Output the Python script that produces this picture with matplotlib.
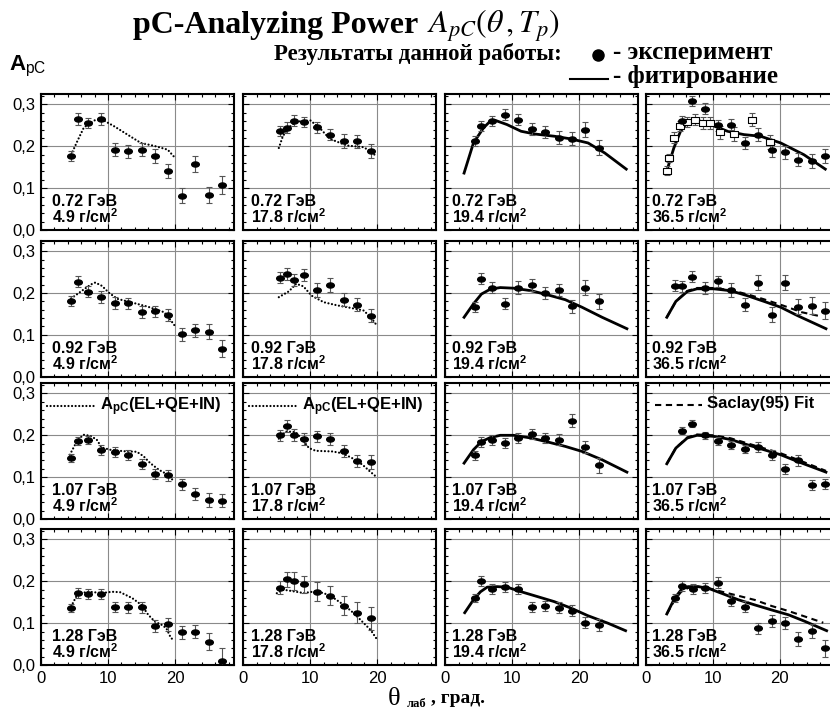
import matplotlib
matplotlib.use("Agg")
import matplotlib.pyplot as plt
from matplotlib.path import Path
from matplotlib.transforms import Affine2D
from matplotlib.lines import Line2D
from matplotlib.ticker import FixedLocator, MultipleLocator, FuncFormatter

plt.rcParams['font.family'] = ['Liberation Sans', 'DejaVu Sans']
plt.rcParams['mathtext.fontset'] = 'custom'
plt.rcParams['mathtext.rm'] = 'Liberation Sans'
plt.rcParams['mathtext.bf'] = 'Liberation Sans:bold'
plt.rcParams['mathtext.it'] = 'Liberation Sans:italic'

# ---------------- data ----------------
energies = ["0.72", "0.92", "1.07", "1.28"]
thicknesses = ["4.9", "17.8", "19.4", "36.5"]

th13 = [4.5, 5.5, 7, 9, 11, 13, 15, 17, 19, 21, 23, 25, 27]
th9 = [5.5, 6.5, 7.5, 9, 11, 13, 15, 17, 19]
th11 = [4.4, 5.4, 6.9, 8.9, 10.9, 12.9, 14.9, 16.9, 18.9, 20.9, 22.9]

# 0.72 GeV
a_072_49 = [0.176, 0.266, 0.256, 0.266, 0.192, 0.188, 0.192, 0.177, 0.141, 0.082, 0.157, 0.084, 0.108]
e_072_49 = [0.012, 0.014, 0.012, 0.014, 0.016, 0.016, 0.016, 0.017, 0.017, 0.018, 0.019, 0.019, 0.022]
dth_072_49 = [4.5, 5.5, 6.4, 8.0, 9.0, 10.9, 12.9, 14.9, 16.9, 18.9, 19.8]
da_072_49 = [0.180, 0.215, 0.245, 0.262, 0.265, 0.248, 0.228, 0.208, 0.201, 0.192, 0.176]

a_072_178 = [0.236, 0.244, 0.261, 0.258, 0.245, 0.228, 0.213, 0.212, 0.189]
e_072_178 = [0.012, 0.013, 0.013, 0.013, 0.013, 0.014, 0.016, 0.016, 0.017]
dth_072_178 = [5.3, 5.9, 6.8, 7.5, 8.5, 10.0, 11.5, 12.9, 15.4, 17.9, 19.4, 19.7]
da_072_178 = [0.196, 0.224, 0.245, 0.254, 0.260, 0.262, 0.242, 0.218, 0.202, 0.198, 0.185, 0.176]

a_072_194 = [0.212, 0.249, 0.261, 0.276, 0.264, 0.242, 0.235, 0.221, 0.218, 0.240, 0.197]
e_072_194 = [0.012, 0.012, 0.012, 0.013, 0.014, 0.014, 0.014, 0.016, 0.016, 0.017, 0.018]
fth_072_194 = [2.8, 4.2, 5.7, 6.7, 7.45, 9.2, 11.3, 13.3, 16.3, 18.8, 21.3, 23.8, 27.0]
fa_072_194 = [0.136, 0.208, 0.244, 0.260, 0.262, 0.252, 0.236, 0.2295, 0.224, 0.2175, 0.208, 0.184, 0.1455]

th_072_365 = [5.4, 6.9, 8.8, 10.8, 12.8, 14.8, 16.8, 18.8, 20.8, 22.8, 24.8, 26.8]
a_072_365 = [0.260, 0.308, 0.290, 0.250, 0.252, 0.208, 0.228, 0.190, 0.1855, 0.168, 0.164, 0.1775]
e_072_365 = [0.012, 0.012, 0.013, 0.013, 0.013, 0.015, 0.016, 0.016, 0.016, 0.016, 0.017, 0.017]
sq_th_072_365 = [3.2, 3.55, 4.15, 5.15, 6.15, 7.4, 8.55, 9.65, 11.15, 13.15, 15.8, 18.55]
sq_a_072_365 = [0.142, 0.172, 0.221, 0.249, 0.257, 0.264, 0.256, 0.256, 0.233, 0.2295, 0.264, 0.210]
sq_e_072_365 = [0.010, 0.010, 0.012, 0.012, 0.012, 0.013, 0.014, 0.014, 0.015, 0.016, 0.016, 0.016]
fth_072_365 = [3.2, 4.2, 5.2, 6.2, 7.4, 9.65, 12.2, 14.65, 17.15, 20.15, 23.6, 26.8]
fa_072_365 = [0.144, 0.196, 0.236, 0.256, 0.264, 0.252, 0.236, 0.228, 0.224, 0.208, 0.180, 0.1455]

# 0.92 GeV
a_092_49 = [0.182, 0.227, 0.203, 0.190, 0.176, 0.175, 0.154, 0.156, 0.148, 0.101, 0.111, 0.107, 0.067]
e_092_49 = [0.012, 0.013, 0.013, 0.015, 0.014, 0.014, 0.014, 0.014, 0.014, 0.016, 0.016, 0.018, 0.020]
dth_092_49 = [4.5, 5.9, 7.4, 8.1, 9.1, 10.1, 11.4, 13.4, 15.9, 18.4, 19.4, 20.0]
da_092_49 = [0.187, 0.203, 0.220, 0.225, 0.217, 0.201, 0.186, 0.178, 0.1675, 0.154, 0.134, 0.121]

a_092_178 = [0.237, 0.245, 0.231, 0.243, 0.207, 0.219, 0.184, 0.172, 0.146]
e_092_178 = [0.014, 0.015, 0.015, 0.015, 0.016, 0.016, 0.016, 0.016, 0.016]
dth_092_178 = [5.3, 6.8, 7.9, 8.96, 10.2, 12.0, 14.0, 16.0, 18.0, 19.2, 20.0]
da_092_178 = [0.190, 0.204, 0.222, 0.216, 0.1935, 0.178, 0.1705, 0.1645, 0.158, 0.138, 0.121]

a_092_194 = [0.166, 0.2346, 0.213, 0.174, 0.213, 0.219, 0.200, 0.207, 0.168, 0.213, 0.180]
e_092_194 = [0.012, 0.013, 0.013, 0.013, 0.015, 0.014, 0.015, 0.014, 0.016, 0.017, 0.018]
fth_092_194 = [2.8, 4.2, 5.4, 6.7, 8.2, 10.2, 12.8, 15.3, 17.9, 20.4, 23.4, 27.1]
fa_092_194 = [0.142, 0.174, 0.1976, 0.209, 0.213, 0.2115, 0.2055, 0.1955, 0.184, 0.166, 0.142, 0.1147]

th_092_365 = [4.4, 5.4, 6.9, 8.8, 10.8, 12.8, 14.8, 16.8, 18.8, 20.8, 22.8, 24.8, 26.8]
a_092_365 = [0.2173, 0.216, 0.2393, 0.2118, 0.2275, 0.207, 0.172, 0.225, 0.1486, 0.225, 0.1675, 0.170, 0.158]
e_092_365 = [0.013, 0.013, 0.013, 0.014, 0.014, 0.016, 0.016, 0.017, 0.018, 0.018, 0.018, 0.020, 0.020]
fth_092_365 = [3.15, 4.5, 6.2, 7.65, 10.15, 12.65, 15.15, 17.65, 20.15, 22.65, 26.9]
fa_092_365 = [0.142, 0.180, 0.2035, 0.210, 0.210, 0.2055, 0.1936, 0.180, 0.166, 0.146, 0.1147]
sth_092_365 = [3.15, 4.5, 6.2, 7.65, 10.15, 12.65, 15.15, 17.65, 20.5, 23.3, 26.2]
sa_092_365 = [0.142, 0.180, 0.205, 0.212, 0.212, 0.207, 0.197, 0.185, 0.170, 0.154, 0.144]

# 1.07 GeV
a_107_49 = [0.1455, 0.187, 0.1894, 0.1655, 0.160, 0.1535, 0.131, 0.108, 0.104, 0.083, 0.060, 0.0456, 0.044]
e_107_49 = [0.010, 0.010, 0.010, 0.012, 0.012, 0.012, 0.012, 0.012, 0.012, 0.013, 0.015, 0.016, 0.016]
dth_107_49 = [4.3, 5.3, 6.3, 7.3, 8.3, 9.05, 10.3, 12.3, 14.3, 15.3, 16.3, 17.6, 18.8, 19.8]
da_107_49 = [0.1535, 0.184, 0.2014, 0.199, 0.190, 0.171, 0.1655, 0.162, 0.1606, 0.150, 0.1335, 0.1175, 0.107, 0.091]

a_107_178 = [0.200, 0.2214, 0.2014, 0.191, 0.1974, 0.191, 0.163, 0.139, 0.136]
e_107_178 = [0.013, 0.014, 0.014, 0.014, 0.014, 0.014, 0.014, 0.015, 0.016]
dth_107_178 = [5.3, 6.3, 7.8, 8.8, 9.8, 10.8, 13.3, 14.8, 16.3, 17.8, 18.8, 19.8]
da_107_178 = [0.192, 0.209, 0.208, 0.190, 0.1695, 0.163, 0.1614, 0.157, 0.145, 0.1295, 0.115, 0.1014]

a_107_194 = [0.152, 0.184, 0.189, 0.1815, 0.1935, 0.203, 0.1935, 0.189, 0.235, 0.172, 0.128]
e_107_194 = [0.010, 0.011, 0.011, 0.013, 0.013, 0.013, 0.013, 0.013, 0.015, 0.015, 0.017]
fth_107_194 = [2.8, 4.2, 5.4, 6.7, 8.2, 10.2, 12.8, 15.3, 17.9, 20.4, 23.4, 27.1]
fa_107_194 = [0.1335, 0.1655, 0.185, 0.1945, 0.200, 0.200, 0.1935, 0.184, 0.1735, 0.1615, 0.1415, 0.112]

th_107_365 = [5.4, 6.9, 8.8, 10.8, 12.8, 14.8, 16.8, 18.8, 20.8, 22.8, 24.8, 26.8]
a_107_365 = [0.211, 0.228, 0.200, 0.187, 0.1775, 0.168, 0.172, 0.1535, 0.120, 0.140, 0.0815, 0.083]
e_107_365 = [0.008, 0.008, 0.009, 0.010, 0.010, 0.010, 0.012, 0.012, 0.012, 0.014, 0.012, 0.012]
fth_107_365 = [3.15, 4.5, 6.2, 7.65, 10.15, 12.65, 15.15, 17.65, 20.15, 22.65, 26.9]
fa_107_365 = [0.132, 0.1695, 0.1935, 0.200, 0.1975, 0.190, 0.1775, 0.1655, 0.1535, 0.1375, 0.112]
sth_107_365 = [3.15, 4.5, 6.2, 7.65, 10.15, 12.65, 15.15, 17.65, 20.15, 22.65, 26.9]
sa_107_365 = [0.132, 0.170, 0.195, 0.202, 0.200, 0.193, 0.181, 0.169, 0.157, 0.142, 0.115]

# 1.28 GeV
a_128_49 = [0.1356, 0.173, 0.170, 0.169, 0.138, 0.138, 0.138, 0.0933, 0.0973, 0.078, 0.080, 0.056, 0.0096]
e_128_49 = [0.010, 0.012, 0.012, 0.012, 0.012, 0.013, 0.013, 0.015, 0.015, 0.016, 0.015, 0.020, 0.030]
dth_128_49 = [4.5, 5.5, 7.2, 9.1, 10.6, 11.8, 13.6, 15.0, 16.0, 17.0, 18.0, 18.7, 19.4, 19.9]
da_128_49 = [0.140, 0.171, 0.175, 0.172, 0.175, 0.174, 0.160, 0.1435, 0.120, 0.1037, 0.096, 0.088, 0.064, 0.060]

a_128_178 = [0.185, 0.205, 0.201, 0.193, 0.1754, 0.166, 0.142, 0.125, 0.1117]
e_128_178 = [0.015, 0.018, 0.022, 0.020, 0.022, 0.022, 0.022, 0.025, 0.027]
dth_128_178 = [5.0, 6.0, 7.5, 9.0, 10.5, 12.0, 13.5, 15.0, 16.5, 18.0, 19.0, 20.0]
da_128_178 = [0.1715, 0.180, 0.176, 0.172, 0.1754, 0.172, 0.160, 0.1435, 0.1236, 0.0997, 0.0837, 0.060]

a_128_194 = [0.160, 0.2017, 0.181, 0.186, 0.181, 0.1395, 0.142, 0.137, 0.130, 0.101, 0.0957]
e_128_194 = [0.010, 0.012, 0.012, 0.012, 0.012, 0.012, 0.012, 0.013, 0.013, 0.013, 0.014]
fth_128_194 = [2.9, 4.25, 5.25, 6.25, 7.75, 9.25, 11.25, 13.75, 16.25, 18.75, 21.25, 24.25, 26.9]
fa_128_194 = [0.125, 0.157, 0.175, 0.186, 0.1873, 0.186, 0.1754, 0.1635, 0.1515, 0.136, 0.118, 0.100, 0.082]

th_128_365 = [4.4, 5.4, 7.0, 8.8, 10.8, 12.8, 14.8, 16.8, 18.8, 20.8, 22.8, 24.8, 26.8]
a_128_365 = [0.160, 0.189, 0.181, 0.1835, 0.197, 0.154, 0.1395, 0.088, 0.105, 0.101, 0.062, 0.081, 0.040]
e_128_365 = [0.010, 0.012, 0.012, 0.012, 0.014, 0.013, 0.013, 0.013, 0.014, 0.014, 0.017, 0.016, 0.020]
fth_128_365 = [3.15, 4.3, 5.3, 6.3, 7.8, 9.3, 11.3, 13.8, 16.3, 18.8, 21.3, 23.8, 27.0]
fa_128_365 = [0.122, 0.159, 0.180, 0.1873, 0.1873, 0.1835, 0.1715, 0.156, 0.1435, 0.1315, 0.120, 0.104, 0.082]
sth_128_365 = [3.15, 4.3, 5.3, 6.3, 7.8, 9.3, 11.3, 13.8, 16.3, 18.8, 21.3, 23.8, 26.5]
sa_128_365 = [0.122, 0.155, 0.175, 0.184, 0.1873, 0.184, 0.1754, 0.1655, 0.1554, 0.141, 0.129, 0.1156, 0.101]

# ---------------- panel table ----------------
panels = {
    (0, 0): dict(th=th13, a=a_072_49, e=e_072_49, dth=dth_072_49, da=da_072_49),
    (0, 1): dict(th=th9, a=a_072_178, e=e_072_178, dth=dth_072_178, da=da_072_178),
    (0, 2): dict(th=th11, a=a_072_194, e=e_072_194, fth=fth_072_194, fa=fa_072_194),
    (0, 3): dict(th=th_072_365, a=a_072_365, e=e_072_365, fth=fth_072_365, fa=fa_072_365,
                 sqth=sq_th_072_365, sqa=sq_a_072_365, sqe=sq_e_072_365),
    (1, 0): dict(th=th13, a=a_092_49, e=e_092_49, dth=dth_092_49, da=da_092_49),
    (1, 1): dict(th=th9, a=a_092_178, e=e_092_178, dth=dth_092_178, da=da_092_178),
    (1, 2): dict(th=th11, a=a_092_194, e=e_092_194, fth=fth_092_194, fa=fa_092_194),
    (1, 3): dict(th=th_092_365, a=a_092_365, e=e_092_365, fth=fth_092_365, fa=fa_092_365,
                 sth=sth_092_365, sa=sa_092_365),
    (2, 0): dict(th=th13, a=a_107_49, e=e_107_49, dth=dth_107_49, da=da_107_49),
    (2, 1): dict(th=th9, a=a_107_178, e=e_107_178, dth=dth_107_178, da=da_107_178),
    (2, 2): dict(th=th11, a=a_107_194, e=e_107_194, fth=fth_107_194, fa=fa_107_194),
    (2, 3): dict(th=th_107_365, a=a_107_365, e=e_107_365, fth=fth_107_365, fa=fa_107_365,
                 sth=sth_107_365, sa=sa_107_365),
    (3, 0): dict(th=th13, a=a_128_49, e=e_128_49, dth=dth_128_49, da=da_128_49),
    (3, 1): dict(th=th9, a=a_128_178, e=e_128_178, dth=dth_128_178, da=da_128_178),
    (3, 2): dict(th=th11, a=a_128_194, e=e_128_194, fth=fth_128_194, fa=fa_128_194),
    (3, 3): dict(th=th_128_365, a=a_128_365, e=e_128_365, fth=fth_128_365, fa=fa_128_365,
                 sth=sth_128_365, sa=sa_128_365),
}

# ---------------- figure ----------------
W, H = 830, 716
fig = plt.figure(figsize=(W / 100, H / 100), dpi=100)
fig.patch.set_facecolor('white')

col_left = [41, 243.3, 445.3, 645.7]
row_zero = [230, 376.7, 519, 665]
PW, PH = 193, 136
XMAX, YMAX = 28.8, 0.325

ell = Affine2D().scale(1.5, 1.0).transform_path(Path.unit_circle())
rect = Path([(-0.7, -0.5), (0.7, -0.5), (0.7, 0.5), (-0.7, 0.5), (-0.7, -0.5)], closed=True)

DOT = (0, (0.01, 1.6))
lab_x = [1.6, 1.2, 1.0, 1.0]
ylab_fmt = FuncFormatter(lambda v, p: f"{v:.1f}".replace('.', ','))

for (r, c), p in panels.items():
    ax = fig.add_axes([col_left[c] / W, 1 - row_zero[r] / H, PW / W, PH / H])
    ax.set_xlim(0, XMAX)
    ax.set_ylim(0, YMAX)
    ax.xaxis.set_major_locator(FixedLocator([0, 10, 20]))
    ax.xaxis.set_minor_locator(MultipleLocator(2))
    ax.yaxis.set_major_locator(FixedLocator([0, 0.1, 0.2, 0.3]))
    ax.yaxis.set_minor_locator(MultipleLocator(0.02))
    ax.grid(True, which='major', color='#8a8a8a', lw=0.8)
    ax.set_axisbelow(True)
    ax.tick_params(which='both', direction='in', top=True, right=True,
                   width=0.8, color='k')
    ax.tick_params(which='major', length=4)
    ax.tick_params(which='minor', length=2.5)
    ax.tick_params(axis='both', labelsize=12, pad=4)
    for s in ax.spines.values():
        s.set_linewidth(1.5)
    if c == 0:
        ax.yaxis.set_major_formatter(ylab_fmt)
    else:
        ax.tick_params(axis='y', labelleft=False)
    if r != 3:
        ax.tick_params(axis='x', labelbottom=False)

    if 'dth' in p:
        ax.plot(p['dth'], p['da'], color='k', lw=1.6, ls=DOT,
                dash_capstyle='round', zorder=3)
    if 'sth' in p:
        ax.plot(p['sth'], p['sa'], color='k', lw=1.5, ls=(0, (3, 2.2)), zorder=3)
    if 'fth' in p:
        ax.plot(p['fth'], p['fa'], color='k', lw=2.0, zorder=3)
    if 'sqth' in p:
        ax.errorbar(p['sqth'], p['sqa'], yerr=p['sqe'], fmt='none', ecolor='#555555',
                    elinewidth=0.8, capsize=2, capthick=0.8, zorder=4)
        ax.plot(p['sqth'], p['sqa'], ls='none', marker=rect, ms=6, mfc='white',
                mec='k', mew=0.8, zorder=5)
    ax.errorbar(p['th'], p['a'], yerr=p['e'], fmt='none', ecolor='#555555',
                elinewidth=0.8, capsize=2, capthick=0.8, zorder=4)
    ax.plot(p['th'], p['a'], ls='none', marker=ell, ms=5.5, color='k', zorder=6)

    ax.text(lab_x[c], 0.057, f"{energies[r]} ГэВ", fontsize=11.5,
            fontweight='bold', va='baseline', zorder=7)
    ax.text(lab_x[c] + (0.1 if c == 0 else 0), 0.016,
            thicknesses[c] + r" г/см$^{\mathbf{2}}$", fontsize=11.5,
            fontweight='bold', va='baseline', zorder=7)

    if r == 2 and c in (0, 1):
        ax.plot([0.03, 0.29], [0.83, 0.83], transform=ax.transAxes, color='k',
                lw=1.6, ls=DOT, dash_capstyle='round')
        ax.text(0.305, 0.80, r"A$_{\mathbf{pC}}$(EL+QE+IN)", transform=ax.transAxes,
                fontsize=12, fontweight='bold', va='baseline')
    if r == 2 and c == 3:
        ax.plot([0.05, 0.29], [0.84, 0.84], transform=ax.transAxes, color='k',
                lw=1.5, ls=(0, (3, 2.2)))
        ax.text(0.32, 0.815, "Saclay(95) Fit", transform=ax.transAxes,
                fontsize=12, fontweight='bold', va='baseline')


def fx(x):
    return x / W


def fy(y):
    return 1 - y / H


serif = ['Liberation Serif', 'DejaVu Serif']

fig.text(fx(133), fy(33), "pC-Analyzing Power", family=serif, weight='bold',
         size=23, va='baseline')
fig.text(fx(427), fy(33), r"$A_{pC}(\theta\,,T_p)$", math_fontfamily='stix',
         size=23, va='baseline')

fig.text(fx(562), fy(60), "Результаты данной работы:", family=serif,
         weight='bold', size=16.5, va='baseline', ha='right')
fig.add_artist(Line2D([fx(598)], [fy(55)], marker='o', ms=8, color='k',
                      transform=fig.transFigure))
fig.text(fx(613), fy(59), "- эксперимент", family=serif, weight='bold',
         size=18, va='baseline')
fig.add_artist(Line2D([fx(570), fx(608)], [fy(79), fy(79)], color='k', lw=1.5,
                      transform=fig.transFigure))
fig.text(fx(613), fy(83), "- фитирование", family=serif, weight='bold',
         size=18, va='baseline')

fig.text(fx(9), fy(70), r"A$_{\mathrm{pC}}$", size=16, weight='bold',
         va='baseline')

fig.text(fx(388), fy(705), "θ", family=serif, size=19, va='baseline')
fig.text(fx(407), fy(707), "лаб", family=serif, weight='bold', size=9,
         va='baseline')
fig.text(fx(431), fy(703), ", град.", family=serif, weight='bold', size=14,
         va='baseline')

fig.savefig("out.png", dpi=100)
